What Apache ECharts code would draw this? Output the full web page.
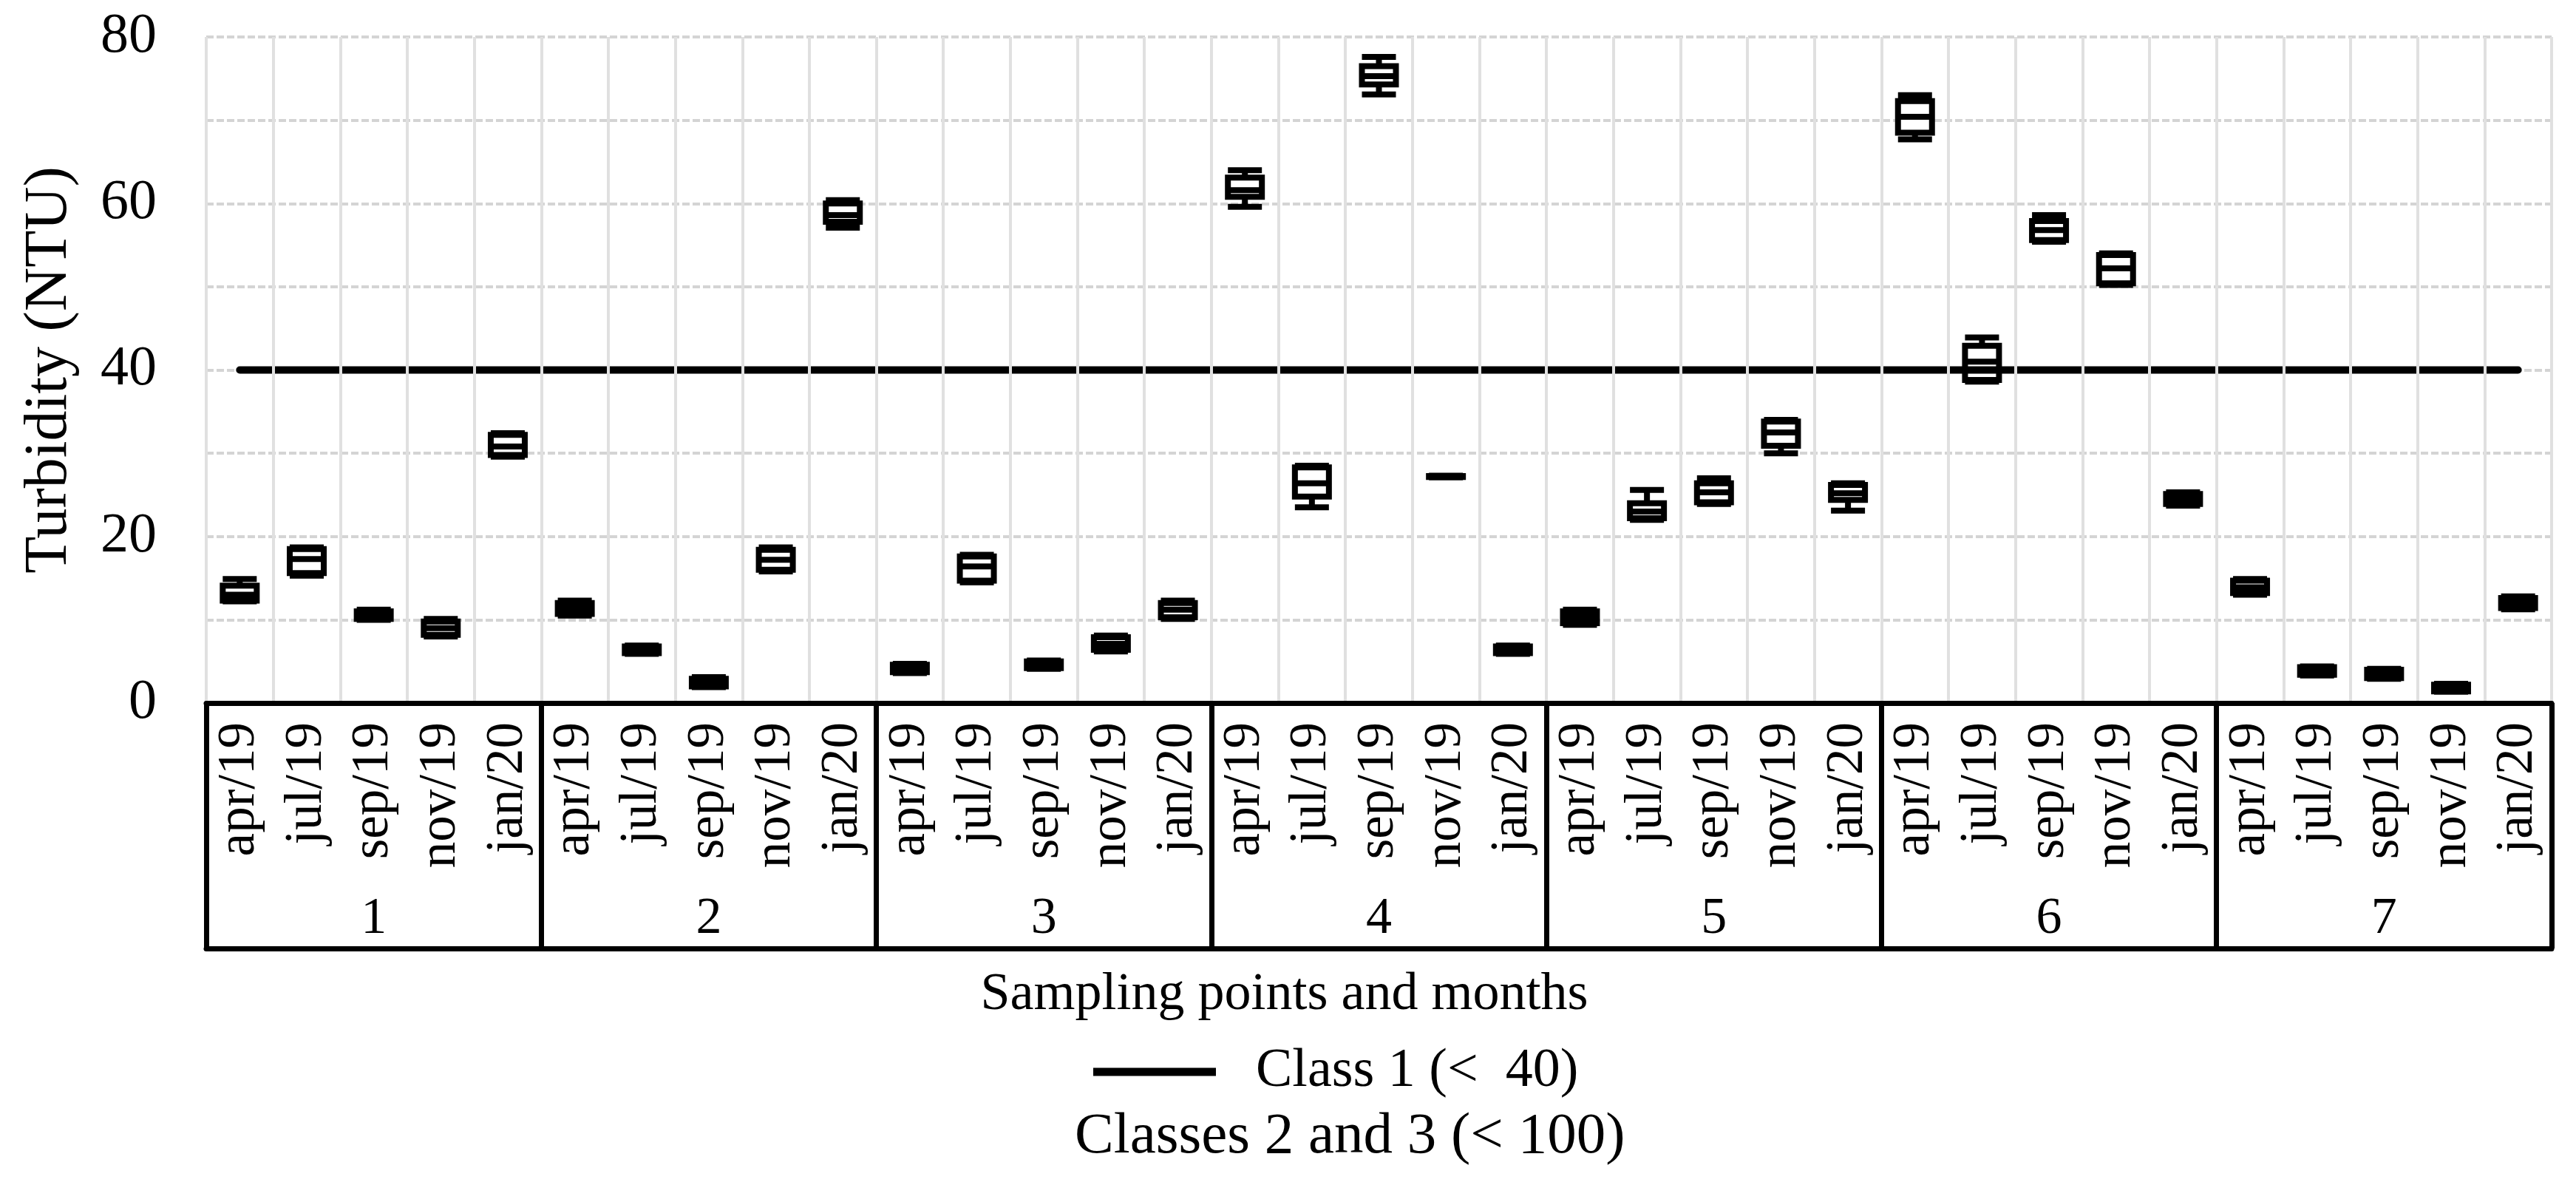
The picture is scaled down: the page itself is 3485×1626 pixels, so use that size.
<!DOCTYPE html>
<html>
<head>
<meta charset="utf-8">
<script src="https://cdn.jsdelivr.net/npm/echarts@6/dist/echarts.min.js"></script>
<style>
html,body{margin:0;padding:0;background:#fff;}
#chart{width:3485px;height:1626px;}
</style>
</head>
<body>
<div id="chart"></div>
<script>
// ---- data ----
const points = ['1', '2', '3', '4', '5', '6', '7'];
const months = ['apr/19', 'jul/19', 'sep/19', 'nov/19', 'jan/20'];
const yTicks = [0, 20, 40, 60, 80];

// each box: [min, Q1, median, Q3, max] for apr/19, jul/19, sep/19, nov/19, jan/20
const point1 = [[12.2, 12.3, 13.0, 14.1, 14.9], [15.3, 15.6, 17.3, 18.5, 18.7], [10.0, 10.1, 10.6, 11.0, 11.2], [8.0, 8.2, 9.0, 9.8, 10.1], [29.6, 29.8, 30.8, 32.2, 32.4]];
const point2 = [[10.5, 10.7, 11.3, 12.0, 12.3], [5.9, 6.0, 6.4, 6.8, 6.9], [1.9, 2.0, 2.4, 2.9, 3.1], [15.8, 16.0, 17.2, 18.4, 18.7], [57.1, 57.8, 58.6, 60.0, 60.4]];
const point3 = [[3.6, 3.7, 4.1, 4.6, 4.7], [14.5, 14.7, 16.4, 17.6, 17.8], [4.1, 4.2, 4.6, 5.0, 5.1], [6.2, 6.4, 7.1, 7.9, 8.1], [10.1, 10.3, 11.2, 12.0, 12.3]];
const point4 = [[59.6, 60.8, 61.6, 63.1, 64.0], [23.5, 24.8, 26.4, 28.3, 28.5], [73.1, 74.3, 75.3, 76.5, 77.6], [27.1, 27.15, 27.2, 27.25, 27.3], [5.9, 6.0, 6.4, 6.8, 6.9]];
const point5 = [[9.4, 9.6, 10.3, 11.0, 11.2], [22.0, 22.2, 23.0, 24.0, 25.6], [23.9, 24.1, 25.3, 26.4, 27.0], [30.0, 30.9, 32.5, 33.8, 34.0], [23.1, 24.4, 25.2, 26.2, 26.4]];
const point6 = [[67.7, 68.5, 70.4, 72.3, 73.0], [38.6, 38.8, 41.0, 42.9, 43.9], [55.4, 55.6, 56.8, 57.9, 58.6], [50.2, 50.4, 52.2, 53.8, 54.0], [23.7, 23.9, 24.5, 25.1, 25.3]];
const point7 = [[13.0, 13.2, 13.9, 14.7, 14.9], [3.3, 3.4, 3.8, 4.3, 4.4], [2.9, 3.0, 3.5, 4.0, 4.1], [1.35, 1.4, 1.8, 2.2, 2.3], [11.25, 11.4, 12.0, 12.6, 12.8]];

const class1Limit = 40;    // Class 1 (< 40)
const class23Limit = 100;  // Classes 2 and 3 (< 100), above the plotted range

// ---- build ----
const boxes = [point1, point2, point3, point4, point5, point6, point7].flat();
const categories = points.flatMap(p => months.map(m => p + '|' + m));
const FONT = '"Liberation Serif", "DejaVu Serif", serif';

const chart = echarts.init(document.getElementById('chart'), null, {renderer: 'canvas'});
chart.setOption({
  animation: false,
  backgroundColor: '#ffffff',
  textStyle: {fontFamily: FONT, color: '#000'},
  grid: {left: 279, right: 33, top: 50, bottom: 675, containLabel: false},
  legend: [
    {
      data: [{name: 'Class 1 (<  40)', icon: 'rect', itemStyle: {color: '#000'}}],
      left: 1474, top: 1408,
      itemWidth: 166, itemHeight: 11,
      selectedMode: false,
      textStyle: {fontSize: 74, fontFamily: FONT, color: '#000', padding: [0, 0, 0, 49]}
    },
    {
      data: ['Classes 2 and 3 (< 100)'],
      left: 1444, top: 1494,
      itemWidth: 0, itemHeight: 0,
      selectedMode: false,
      textStyle: {fontSize: 79, fontFamily: FONT, color: '#000'}
    }
  ],
  xAxis: [
    {
      type: 'category',
      data: categories,
      boundaryGap: true,
      axisLine: {show: true, lineStyle: {color: '#000', width: 7}},
      axisTick: {show: false},
      axisLabel: {
        interval: 0, rotate: 90, margin: 26,
        fontSize: 71, fontFamily: FONT, color: '#000',
        padding: [30, 0, 0, 0],
        formatter: v => v.split('|')[1]
      },
      splitLine: {show: true, interval: 0, lineStyle: {color: '#e0e0e0', width: 4}},
      z: 5
    },
    {
      type: 'category',
      data: points,
      position: 'bottom',
      offset: 332,
      boundaryGap: true,
      axisLine: {show: true, lineStyle: {color: '#000', width: 7}},
      axisTick: {show: true, inside: true, length: 332, interval: 0, lineStyle: {color: '#000', width: 7}},
      axisLabel: {interval: 0, inside: true, margin: 4, fontSize: 70, fontFamily: FONT, color: '#000'},
      splitLine: {show: false},
      name: 'Sampling points and months',
      nameLocation: 'middle',
      nameGap: 27,
      nameTextStyle: {fontSize: 72, fontFamily: FONT, color: '#000', verticalAlign: 'top', padding: [0, 256, 0, 0]},
      z: 5
    }
  ],
  yAxis: {
    type: 'value',
    min: 0, max: 80, interval: 10,
    axisLine: {show: false},
    axisTick: {show: false},
    axisLabel: {
      fontSize: 76, margin: 67, color: '#000', fontFamily: FONT,
      formatter: v => (yTicks.includes(v) ? String(v) : '')
    },
    splitLine: {show: true, lineStyle: {color: '#d4d4d4', width: 4, type: [10, 4]}},
    name: 'Turbidity (NTU)',
    nameLocation: 'middle',
    nameGap: 171,
    nameTextStyle: {fontSize: 82, fontFamily: FONT, color: '#000'}
  },
  series: [
    {
      type: 'boxplot',
      name: 'Turbidity',
      data: boxes,
      boxWidth: [46, 46],
      itemStyle: {color: '#ffffff', borderColor: '#000', borderWidth: 8},
      z: 3
    },
    {
      type: 'line',
      name: 'Class 1 (<  40)',
      data: categories.map(() => class1Limit),
      symbol: 'none',
      lineStyle: {color: '#000', width: 10, cap: 'round'},
      itemStyle: {color: '#000'},
      z: 4
    },
    {
      type: 'line',
      name: 'Classes 2 and 3 (< 100)',
      data: categories.map(() => class23Limit),
      symbol: 'none',
      clip: true,
      lineStyle: {color: '#ffffff', width: 0},
      itemStyle: {color: '#ffffff'}
    }
  ]
});
</script>
</body>
</html>
